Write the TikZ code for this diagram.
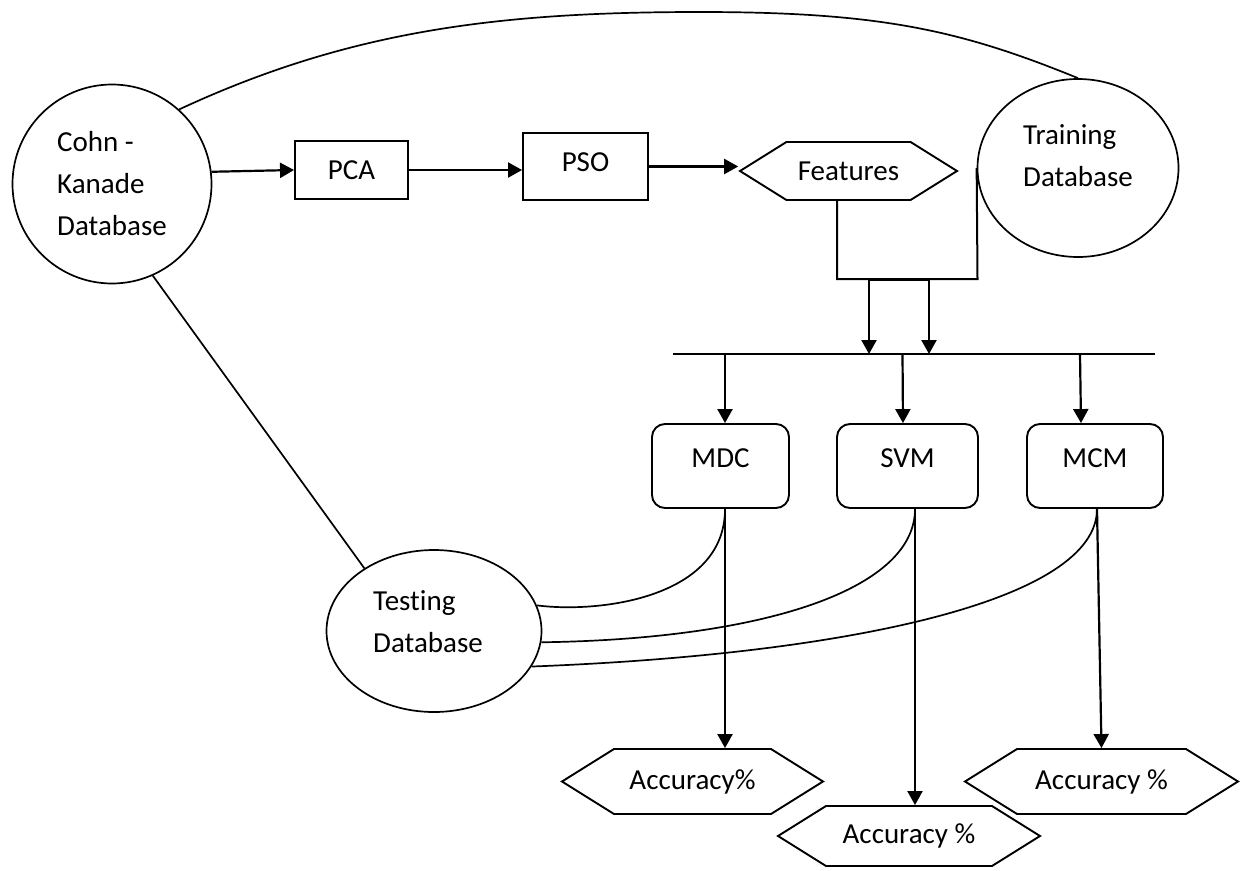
\documentclass[tikz,border=0pt]{standalone}
\usepackage{fontspec}
\setmainfont{Carlito}[Ligatures=NoCommon]
\usetikzlibrary{arrows.meta,shapes.geometric,shapes.symbols}
\begin{document}
\begin{tikzpicture}[x=1pt,y=-1pt,
  every node/.style={font=\fontsize{29}{42}\selectfont, inner sep=0pt},
  ln/.style={line width=1.7pt},
  arr/.style={line width=2.2pt,-{Triangle[length=14pt,width=15pt]}},
  db/.style={draw,line width=1.7pt,ellipse},
  box/.style={draw,line width=1.9pt,rectangle},
  cls/.style={draw,line width=1.9pt,rectangle,rounded corners=13pt,minimum height=84pt,text depth=16pt},
  hex/.style={draw,line width=1.9pt,signal,signal to=east and west,signal pointer angle=64}]
\useasboundingbox (0,0) rectangle (1242,870);

% databases
\node[draw,line width=1.7pt,circle,minimum size=199pt,align=left] (ck) at (112,184) {Cohn -\\Kanade\\Database};
\node[db,minimum width=201pt,minimum height=178pt] (td) at (1078,168) {};
\node[align=left] (tdt) at (1078,156) {Training\\Database};
\node[db,minimum width=215pt,minimum height=162pt] (te) at (434,631) {};
\node[align=left] (tet) at (428,622) {Testing\\Database};

% processing chain
\node[box,minimum width=113pt,minimum height=58pt] (pca) at (351.5,170) {PCA};
\node[box,minimum width=125pt,minimum height=67pt,text depth=8pt] (pso) at (585.5,166.5) {PSO};
\node[hex,minimum width=217pt,minimum height=58pt] (feat) at (848.5,171) {Features};

% classifiers
\node[cls,minimum width=137pt] (mdc) at (720.5,466) {MDC};
\node[cls,minimum width=141pt] (svm) at (907.5,466) {SVM};
\node[cls,minimum width=136pt] (mcm) at (1095,466) {MCM};

% outputs
\node[hex,minimum width=261pt,minimum height=65pt] (acc1) at (692.5,781.5) {Accuracy\%};
\node[hex,minimum width=262pt,minimum height=60pt] (acc2) at (909,836) {Accuracy \%};
\node[hex,minimum width=273pt,minimum height=65pt] (acc3) at (1101.5,781.5) {Accuracy \%};

% coordinates
\coordinate (busL) at (673,354);
\coordinate (busR) at (1155,354);
\coordinate (j1) at (837,279);
\coordinate (j2) at (977.5,279);
\coordinate (d1) at (869,279);
\coordinate (d2) at (929,279);
\coordinate (top) at (700,12);

% connectors
\draw[ln] (ck.48) .. controls (350,30) and (500,12) .. (top)
  .. controls (880,12) and (960,30) .. (td.north);
\draw[arr] (ck.7) -- (pca.west);
\draw[arr] (pca.east) -- (pca.east -| pso.west);
\draw[arr] (pso.east) -- (pso.east -| feat.west);
\draw[ln] (ck.-66) -- (te.138);

\draw[line width=2pt] (feat.south -| j1) -- (j1) -- (j2) -- (td.west);
\draw[line width=3pt] (d1) -- (d2);
\draw[arr] (d1) -- (d1 |- busL);
\draw[arr] (d2) -- (d2 |- busL);
\draw[ln] (busL) -- (busR);

\draw[arr] ([xshift=4.5pt]mdc.north |- busL) -- ([xshift=4.5pt]mdc.north);
\draw[arr] ([xshift=-5pt]svm.north |- busL) -- ([xshift=-4.5pt]svm.north);
\draw[arr] ([xshift=-15pt]mcm.north |- busL) -- ([xshift=-14pt]mcm.north);

\draw[arr] ([xshift=4.5pt]mdc.south) -- ([xshift=4.5pt]mdc.south |- acc1.north);
\draw[arr] ([xshift=7.5pt]svm.south) -- ([xshift=7.5pt]svm.south |- acc2.north);
\draw[arr] ([xshift=2pt]mcm.south) -- (acc3.north);

\draw[ln] ([xshift=4.5pt]mdc.south) .. controls +(0,90) and +(60,8) .. (te.14);
\draw[ln] ([xshift=7.5pt]svm.south) .. controls +(0,82) and +(218,-3) .. (te.-6);
\draw[ln] ([xshift=2pt]mcm.south) .. controls +(0,92) and +(315,-12) .. (te.-20);
\end{tikzpicture}
\end{document}
